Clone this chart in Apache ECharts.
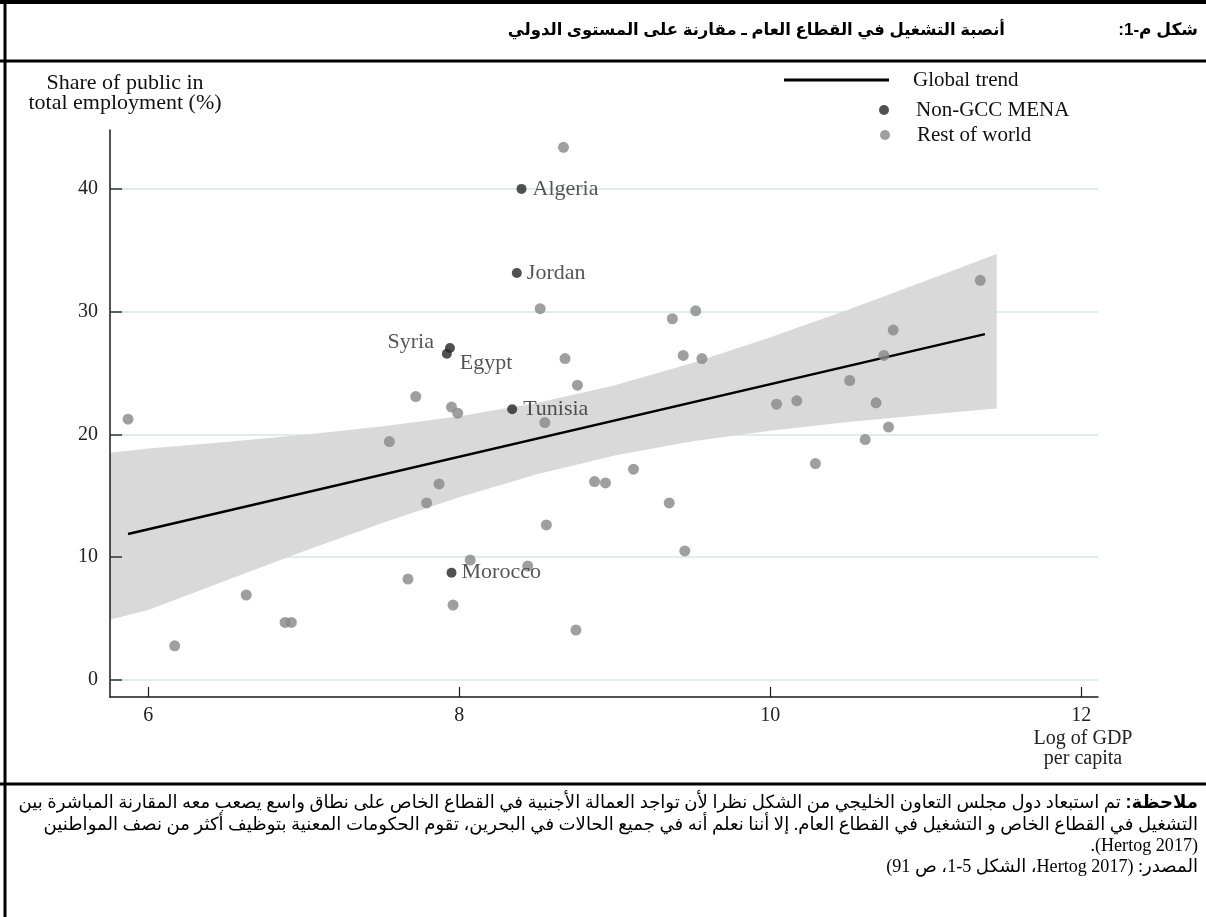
<!DOCTYPE html>
<html><head><meta charset="utf-8">
<script src="https://cdn.jsdelivr.net/npm/echarts@6/dist/echarts.min.js"></script>
<style>html,body{margin:0;padding:0;background:#fff}#c{width:1206px;height:917px}</style>
</head><body><div id="c"></div>
<script>
// ---------- data ----------
const restX = [5.87, 7.55, 6.63, 6.88, 6.92, 6.17, 8.67, 8.52, 9.37, 9.52, 8.68, 9.44, 9.56, 8.76, 7.72, 7.95, 7.99, 8.55, 7.87, 7.79, 8.87, 8.94, 9.12, 9.35, 8.56, 9.45, 8.07, 8.44, 7.67, 7.96, 8.75, 11.35, 10.79, 10.73, 10.51, 10.04, 10.17, 10.68, 10.76, 10.61, 10.29];
const restY = [21.24, 19.41, 6.91, 4.68, 4.68, 2.77, 43.39, 30.24, 29.42, 30.07, 26.18, 26.43, 26.18, 24.01, 23.08, 22.22, 21.73, 20.96, 15.96, 14.41, 16.15, 16.04, 17.16, 14.41, 12.62, 10.50, 9.76, 9.27, 8.21, 6.09, 4.05, 32.55, 28.5, 26.43, 24.39, 22.46, 22.73, 22.57, 20.59, 19.58, 17.62];
const menaNames = ['Algeria', 'Jordan', 'Syria', 'Egypt', 'Tunisia', 'Morocco'];
const menaX = [8.40, 8.37, 7.94, 7.92, 8.34, 7.95];
const menaY = [40.0, 33.15, 27.03, 26.57, 22.05, 8.73];
const trendX = [5.87, 11.38];
const trendY = [11.88, 28.17];
const bandX = [5.754, 6, 6.5, 7, 7.5, 8, 8.5, 9, 9.5, 10, 10.5, 11, 11.456];
const bandUpper = [18.5, 18.84, 19.38, 19.97, 20.65, 21.48, 22.56, 24.0, 25.81, 27.91, 30.16, 32.52, 34.7];
const bandLower = [4.9, 5.68, 8.10, 10.47, 12.75, 14.88, 16.76, 18.28, 19.43, 20.29, 21.0, 21.6, 22.1];
const xTicks = [6, 8, 10, 12];
const yTicks = [0, 10, 20, 30, 40];

const titleNum = 'شكل م-1:';
const titleText = 'أنصبة التشغيل في القطاع العام ـ مقارنة على المستوى الدولي';
const noteLabel = 'ملاحظة:';
const noteLine1 = ' تم استبعاد دول مجلس التعاون الخليجي من الشكل نظرا لأن تواجد العمالة الأجنبية في القطاع الخاص على نطاق واسع يصعب معه المقارنة المباشرة بين';
const noteLine2 = 'التشغيل في القطاع الخاص و التشغيل في القطاع العام. إلا أننا نعلم أنه في جميع الحالات في البحرين، تقوم الحكومات المعنية بتوظيف أكثر من نصف المواطنين';
const noteLine3 = '(Hertog 2017).';
const sourceLine = 'المصدر: (Hertog 2017، الشكل 5-1، ص 91)';

// ---------- styling ----------
const SERIF = "'Liberation Serif', 'DejaVu Serif', serif";
const AR = "'Liberation Serif', 'DejaVu Sans', sans-serif";
const ARB = "'Liberation Sans', 'DejaVu Sans', sans-serif";
const RLE = '\u202B', PDF = '\u202C';
const rtl = s => RLE + s + PDF;

// fit note font so that the first (justified) line spans the frame width
const mctx = document.createElement('canvas').getContext('2d');
function textW(str, size, family, weight) { mctx.font = (weight || 'normal') + ' ' + size + 'px ' + family; return mctx.measureText(str).width; }
const w1 = textW(rtl(noteLine1), 100, AR) + textW(rtl(noteLabel), 100, ARB, 'bold');
const noteSize = Math.min(20, Math.floor(1186 * 100 / w1 * 10) / 10);

const menaLabelPlacement = {
  Algeria: { position: 'right', distance: 6 },
  Jordan: { position: 'right', distance: 5 },
  Syria: { position: 'left', distance: 5, offset: [-6, -6] },
  Egypt: { position: 'right', distance: 5, offset: [3, 9] },
  Tunisia: { position: 'right', distance: 6 },
  Morocco: { position: 'right', distance: 5 }
};

const chart = echarts.init(document.getElementById('c'), null, { renderer: 'canvas' });

const axisDark = '#1a1a1a';
const option = {
  animation: false,
  backgroundColor: '#ffffff',
  grid: { left: 110, right: 108, top: 130, bottom: 220, containLabel: false, outerBoundsMode: 'none' },
  xAxis: {
    type: 'value', min: 5.754, max: 12.107,
    axisLine: { show: true, onZero: false, lineStyle: { color: axisDark, width: 1.5 } },
    axisTick: { show: true, inside: true, length: 10, customValues: xTicks, lineStyle: { color: axisDark, width: 1.2 } },
    axisLabel: { customValues: xTicks, margin: 9, fontSize: 20, color: '#222', fontFamily: SERIF },
    splitLine: { show: false },
    name: 'Log of GDP\nper capita', nameLocation: 'end', nameGap: -15, nameMoveOverlap: false,
    nameTextStyle: { fontFamily: SERIF, fontSize: 20, color: '#222', align: 'center', verticalAlign: 'top', lineHeight: 20, padding: [32, 0, 0, 0] }
  },
  yAxis: [{
    type: 'value', min: -1.4, max: 44.8, position: 'left',
    axisLine: { show: false }, axisLabel: { show: false },
    axisTick: { show: false, customValues: yTicks },
    splitLine: { show: true, lineStyle: { color: '#e2eced', width: 2 } }
  }, {
    type: 'value', min: -1.4, max: 44.8, position: 'left', offset: 0, z: 1,
    axisLine: { show: true, onZero: false, lineStyle: { color: axisDark, width: 1.5 } },
    axisTick: { show: true, inside: true, length: 12, customValues: yTicks, lineStyle: { color: '#333', width: 1.5 } },
    axisLabel: { customValues: yTicks, margin: 12, fontSize: 20, color: '#222', fontFamily: SERIF },
    splitLine: { show: false },
    name: 'Share of public in\ntotal employment (%)', nameLocation: 'end', nameGap: 17, nameMoveOverlap: false,
    nameTextStyle: { fontFamily: SERIF, fontSize: 22, color: '#111', align: 'center', verticalAlign: 'bottom', lineHeight: 20, padding: [0, 0, 0, 30] }
  }],
  legend: [{
    data: [{ name: 'Global trend', icon: 'rect' }], left: 784, top: 69, padding: 0,
    itemWidth: 105, itemHeight: 3, selectedMode: false,
    textStyle: { fontFamily: SERIF, fontSize: 21, color: '#111', lineHeight: 22, padding: [0, 0, 0, 19] }
  }, {
    data: [{ name: 'Non-GCC MENA', icon: 'circle' }], left: 879, top: 99, padding: 0,
    itemWidth: 10, itemHeight: 10, selectedMode: false,
    textStyle: { fontFamily: SERIF, fontSize: 21, color: '#111', lineHeight: 22, padding: [0, 0, 0, 22] }
  }, {
    data: [{ name: 'Rest of world', icon: 'circle' }], left: 880, top: 124, padding: 0,
    itemWidth: 10, itemHeight: 10, selectedMode: false,
    textStyle: { fontFamily: SERIF, fontSize: 21, color: '#111', lineHeight: 22, padding: [0, 0, 0, 22] }
  }],
  series: [{
    type: 'custom', name: 'Confidence band', silent: true, z: 1,
    data: bandX.map((x, i) => [x, bandLower[i], bandUpper[i]]),
    encode: { x: 0, y: [1, 2] },
    renderItem: (params, api) => {
      if (params.dataIndex !== 0) return null;
      const pts = [];
      for (let i = 0; i < bandX.length; i++) pts.push(api.coord([bandX[i], bandUpper[i]]));
      for (let i = bandX.length - 1; i >= 0; i--) pts.push(api.coord([bandX[i], bandLower[i]]));
      return { type: 'polygon', shape: { points: pts }, style: { fill: '#d9d9d9' } };
    }
  }, {
    type: 'line', name: 'Global trend', z: 3,
    data: trendX.map((x, i) => [x, trendY[i]]),
    symbol: 'none', itemStyle: { color: '#000' },
    lineStyle: { color: '#000', width: 2.5 }
  }, {
    type: 'scatter', name: 'Rest of world', z: 4,
    data: restX.map((x, i) => [x, restY[i]]),
    symbolSize: 11, itemStyle: { color: '#878787' }
  }, {
    type: 'scatter', name: 'Non-GCC MENA', z: 5,
    data: menaX.map((x, i) => ({ name: menaNames[i], value: [x, menaY[i]], label: menaLabelPlacement[menaNames[i]] })),
    symbolSize: 10, itemStyle: { color: '#262626' },
    label: { show: true, formatter: '{b}', fontFamily: SERIF, fontSize: 22, color: '#2a2a2a' }
  }],
  graphic: [
    { type: 'line', shape: { x1: 0, y1: 2, x2: 1206, y2: 2 }, style: { stroke: '#000', lineWidth: 4 }, silent: true },
    { type: 'line', shape: { x1: 5, y1: 0, x2: 5, y2: 917 }, style: { stroke: '#000', lineWidth: 3 }, silent: true },
    { type: 'line', shape: { x1: 0, y1: 61, x2: 1206, y2: 61 }, style: { stroke: '#000', lineWidth: 3 }, silent: true },
    { type: 'line', shape: { x1: 0, y1: 784, x2: 1206, y2: 784 }, style: { stroke: '#000', lineWidth: 3 }, silent: true },
    { type: 'text', x: 1198, y: 30, silent: true, style: { text: rtl(titleNum), fontFamily: ARB, fontSize: 17, fontWeight: 'bold', fill: '#000', align: 'right', verticalAlign: 'middle' } },
    { type: 'text', x: 1005, y: 30, silent: true, style: { text: rtl(titleText), fontFamily: ARB, fontSize: 16.5, fontWeight: 'bold', fill: '#000', align: 'right', verticalAlign: 'middle' } },
    { type: 'text', x: 1198, y: 803, silent: true, style: {
        text: '{n|' + rtl(noteLine1) + '}{b|' + rtl(noteLabel) + '}', align: 'right', verticalAlign: 'middle',
        rich: { n: { fontFamily: AR, fontSize: noteSize, fill: '#000' }, b: { fontFamily: ARB, fontSize: noteSize, fontWeight: 'bold', fill: '#000' } } } },
    { type: 'text', x: 1198, y: 825, silent: true, style: { text: rtl(noteLine2), fontFamily: AR, fontSize: noteSize, fill: '#000', align: 'right', verticalAlign: 'middle' } },
    { type: 'text', x: 1198, y: 846, silent: true, style: { text: rtl(noteLine3), fontFamily: AR, fontSize: noteSize, fill: '#000', align: 'right', verticalAlign: 'middle' } },
    { type: 'text', x: 1198, y: 867, silent: true, style: { text: rtl(sourceLine), fontFamily: AR, fontSize: noteSize, fill: '#000', align: 'right', verticalAlign: 'middle' } }
  ]
};
chart.setOption(option);
</script>
</body></html>
